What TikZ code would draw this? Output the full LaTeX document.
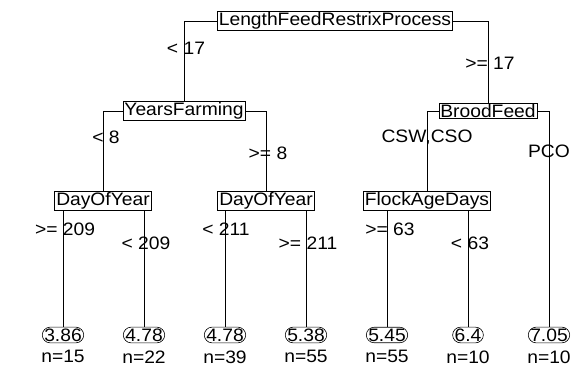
\documentclass[tikz,border=0pt]{standalone}
\usepackage{fontspec}
\setmainfont{Liberation Sans}[FakeStretch=1.07]
\usetikzlibrary{positioning}

\begin{document}
\begin{tikzpicture}
[x=1pt, y=-1pt, font=\fontsize{18}{20}\selectfont, line width=0.8pt,
 split/.style={draw, rectangle, inner xsep=1.5pt, inner ysep=1pt, line width=0.6pt},
 leaf/.style={draw, rectangle, rounded corners=8pt, inner xsep=2pt, inner ysep=1.5pt, line width=0.6pt},
 cut/.style={inner sep=0pt},
 cnt/.style={inner sep=0pt, below=7pt of #1}]
%[every node/.style={fill=white}]
\useasboundingbox (0,0) rectangle (571,368);

% splits
\node[split] (root) at (335,21) {LengthFeedRestrixProcess};
\node[split] (yf) at (184,111) {YearsFarming};
\node[split] (bf) at (488,111) {BroodFeed};
\node[split] (dy1) at (103,201) {DayOfYear};
\node[split] (dy2) at (266,201) {DayOfYear};
\node[split] (fa) at (427,201) {FlockAgeDays};

% leaves
\node[leaf] (l1) at (63,335) {3.86};
\node[leaf] (l2) at (144,335) {4.78};
\node[leaf] (l3) at (225,335) {4.78};
\node[leaf] (l4) at (306,335) {5.38};
\node[leaf] (l5) at (387,335) {5.45};
\node[leaf] (l6) at (468,335) {6.4};
\node[leaf] (l7) at (549,335) {7.05};

\node[cnt=l1] (n1) {n=15};
\node[cnt=l2] (n2) {n=22};
\node[cnt=l3] (n3) {n=39};
\node[cnt=l4] (n4) {n=55};
\node[cnt=l5] (n5) {n=55};
\node[cnt=l6] (n6) {n=10};
\node[cnt=l7] (n7) {n=10};

% branches
\draw (root.west) -| (yf.north);
\draw (root.east) -| (bf.north);
\draw (yf.west) -| (dy1.north);
\draw (yf.east) -| (dy2.north);
\draw (bf.west) -| (fa.north);
\draw (bf.east) -| (l7.north);
\draw (l1.north) -- (l1.north |- dy1.south);
\draw (l2.north) -- (l2.north |- dy1.south);
\draw (l3.north) -- (l3.north |- dy2.south);
\draw (l4.north) -- (l4.north |- dy2.south);
\draw (l5.north) -- (l5.north |- fa.south);
\draw (l6.north) -- (l6.north |- fa.south);

% cut labels
\node[cut] (c1) at (186,48) {< 17};
\node[cut] (c2) at (490,63) {>= 17};
\node[cut] (c3) at (106,137) {< 8};
\node[cut] (c4) at (268,153) {>= 8};
\node[cut] (c5) at (427,137) {CSW,CSO};
\node[cut] (c6) at (549,151) {PCO};
\node[cut] (c7) at (65,229) {>= 209};
\node[cut] (c8) at (146,243) {< 209};
\node[cut] (c9) at (226,229) {< 211};
\node[cut] (c10) at (308,243) {>= 211};
\node[cut] (c11) at (390,229) {>= 63};
\node[cut] (c12) at (470,243) {< 63};

\end{tikzpicture}
\end{document}
